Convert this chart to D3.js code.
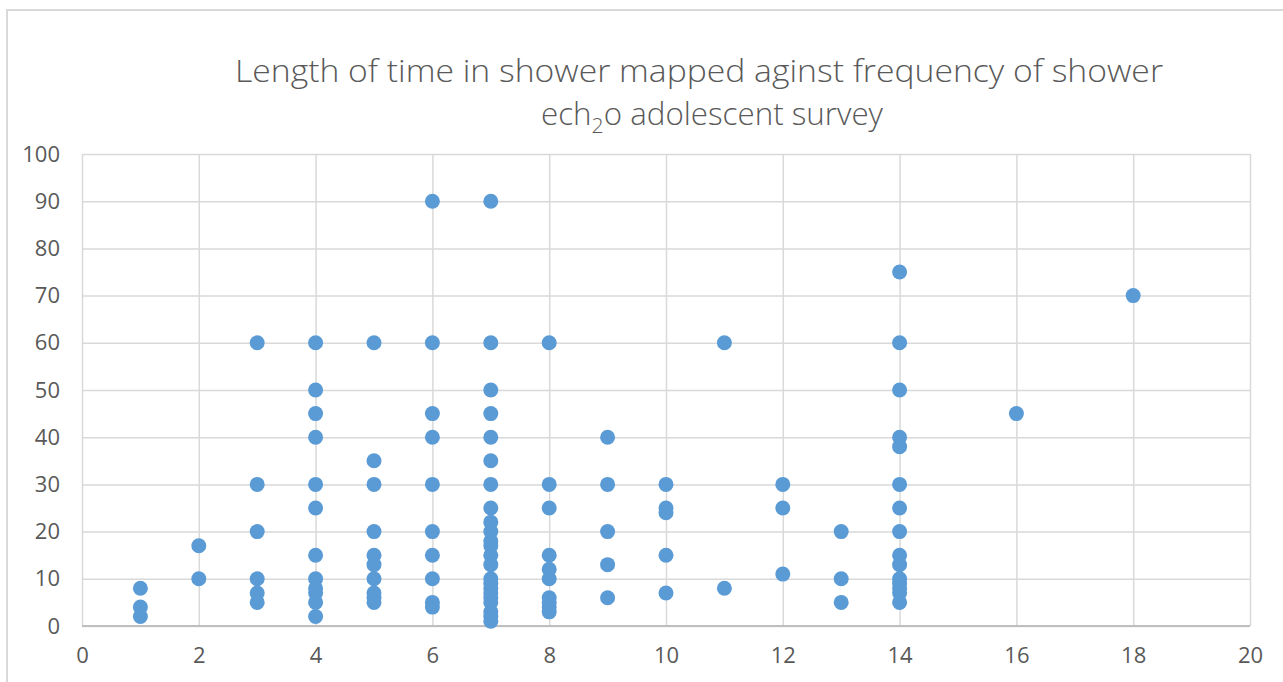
<!DOCTYPE html>
<html>
<head>
<meta charset="utf-8">
<script src="https://cdn.jsdelivr.net/npm/d3@7"></script>
<style>
  html, body { margin: 0; padding: 0; background: #fff; }
  svg { display: block; }
</style>
</head>
<body>
<svg id="chart" width="1283" height="682"></svg>
<script>
// ---- Data ----
const titleLine1 = "Length of time in shower mapped aginst frequency of shower";
const titleLine2a = "ech";
const titleLine2sub = "2";
const titleLine2b = "o adolescent survey";

const xTicks = [0, 2, 4, 6, 8, 10, 12, 14, 16, 18, 20];
const yTicks = [0, 10, 20, 30, 40, 50, 60, 70, 80, 90, 100];

// frequency of shower (x) and length of time in shower (y), paired
const frequency = [
  1, 1, 1,
  2, 2,
  3, 3, 3, 3, 3, 3,
  4, 4, 4, 4, 4, 4, 4, 4, 4, 4, 4, 4,
  5, 5, 5, 5, 5, 5, 5, 5, 5, 5,
  6, 6, 6, 6, 6, 6, 6, 6, 6, 6,
  7, 7, 7, 7, 7, 7, 7, 7, 7, 7, 7, 7, 7, 7, 7, 7, 7, 7, 7, 7, 7, 7, 7,
  8, 8, 8, 8, 8, 8, 8, 8, 8, 8,
  9, 9, 9, 9, 9,
  10, 10, 10, 10, 10,
  11, 11,
  12, 12, 12,
  13, 13, 13,
  14, 14, 14, 14, 14, 14, 14, 14, 14, 14, 14, 14, 14, 14, 14,
  16,
  18
];
const minutes = [
  8, 4, 2,
  17, 10,
  60, 30, 20, 10, 7, 5,
  60, 50, 45, 40, 30, 25, 15, 10, 8, 7, 5, 2,
  60, 35, 30, 20, 15, 13, 10, 7, 6, 5,
  90, 60, 45, 40, 30, 20, 15, 10, 5, 4,
  90, 60, 50, 45, 40, 35, 30, 25, 22, 20, 18, 17, 15, 13, 10, 9, 8, 7, 6, 5, 3, 2, 1,
  60, 30, 25, 15, 12, 10, 6, 5, 4, 3,
  40, 30, 20, 13, 6,
  30, 25, 24, 15, 7,
  60, 8,
  30, 25, 11,
  20, 10, 5,
  75, 60, 50, 40, 38, 30, 25, 20, 15, 13, 10, 9, 8, 7, 5,
  45,
  70
];

// ---- Layout ----
const svg = d3.select("#chart");
const plot = { left: 82, right: 1250, top: 154, bottom: 626 };
const textColor = "#595959";
const font = "'Open Sans', 'Liberation Sans', sans-serif";

const x = d3.scaleLinear().domain([0, 20]).range([plot.left, plot.right]);
const y = d3.scaleLinear().domain([0, 100]).range([plot.bottom, plot.top]);

// chart border
svg.append("rect")
  .attr("x", 7).attr("y", 10)
  .attr("width", 1290).attr("height", 700)
  .attr("fill", "#fff")
  .attr("stroke", "#d9d9d9").attr("stroke-width", 2);

// horizontal gridlines
const yGrid = svg.append("g")
  .attr("transform", `translate(${plot.left},0)`)
  .call(d3.axisLeft(y).tickValues(yTicks).tickSize(-(plot.right - plot.left)).tickFormat(""));
yGrid.select(".domain").remove();
yGrid.selectAll("line").attr("stroke", "#d9d9d9").attr("stroke-width", 1.5);

// vertical gridlines
const xGrid = svg.append("g")
  .attr("transform", `translate(0,${plot.bottom})`)
  .call(d3.axisBottom(x).tickValues(xTicks).tickSize(-(plot.bottom - plot.top)).tickFormat(""));
xGrid.select(".domain").remove();
xGrid.selectAll("line").attr("stroke", "#d9d9d9").attr("stroke-width", 1.5);

// bottom axis line
svg.append("line")
  .attr("x1", x(0)).attr("x2", x(20))
  .attr("y1", y(0)).attr("y2", y(0))
  .attr("stroke", "#bfbfbf").attr("stroke-width", 2);

// y tick labels
const yAxis = svg.append("g")
  .attr("transform", `translate(${plot.left},0)`)
  .attr("font-size", 22)
  .call(d3.axisLeft(y).tickValues(yTicks).tickSize(0).tickPadding(22).tickFormat(d3.format("d")));
yAxis.attr("font-size", 22).attr("font-family", font);
yAxis.select(".domain").remove();
yAxis.selectAll("text").attr("fill", textColor);

// x tick labels
const xAxis = svg.append("g")
  .attr("transform", `translate(0,${plot.bottom})`)
  .call(d3.axisBottom(x).tickValues(xTicks).tickSize(0).tickPadding(21).tickFormat(d3.format("d")));
xAxis.attr("font-size", 22).attr("font-family", font);
xAxis.select(".domain").remove();
xAxis.selectAll("text").attr("fill", textColor);

// points
const pts = frequency.map((f, i) => ({ f, m: minutes[i] }));
svg.append("g")
  .selectAll("circle")
  .data(pts)
  .join("circle")
  .attr("cx", d => x(d.f))
  .attr("cy", d => y(d.m))
  .attr("r", 7.5)
  .attr("fill", "#5b9bd5");

// title
svg.append("text")
  .attr("x", 699).attr("y", 82)
  .attr("text-anchor", "middle")
  .attr("fill", textColor)
  .style("font-family", font)
  .style("font-size", "31px")
  .style("font-weight", 300)
  .attr("textLength", 928)
  .attr("lengthAdjust", "spacingAndGlyphs")
  .text(titleLine1);

const t2 = svg.append("text")
  .attr("x", 712).attr("y", 125)
  .attr("text-anchor", "middle")
  .attr("fill", textColor)
  .style("font-family", font)
  .style("font-size", "31px")
  .style("font-weight", 300)
  .attr("textLength", 342)
  .attr("lengthAdjust", "spacingAndGlyphs");
t2.append("tspan").text(titleLine2a);
t2.append("tspan").attr("dy", 8).style("font-size", "21px").text(titleLine2sub);
t2.append("tspan").attr("dy", -8).text(titleLine2b);
</script>
</body>
</html>
